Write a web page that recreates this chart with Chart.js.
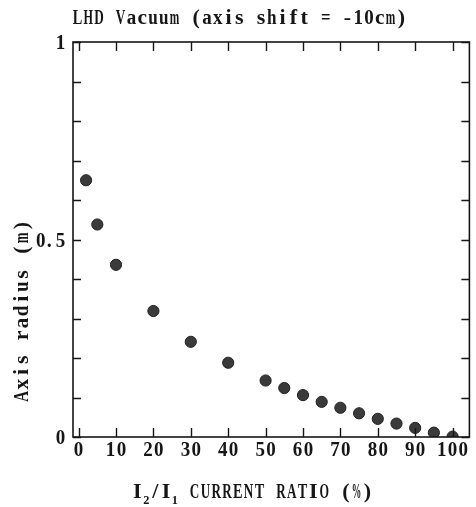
<!DOCTYPE html>
<html>
<head>
<meta charset="utf-8">
<script src="https://cdn.jsdelivr.net/npm/chart.js@4.4.0/dist/chart.umd.min.js"></script>
<style>
  html, body { margin: 0; padding: 0; background: #fff; }
  #wrap { width: 476px; height: 507px; }
</style>
</head>
<body>
<div id="wrap"><canvas id="c" width="476" height="507"></canvas></div>
<script>
// --- data ---
const currentRatio = [2, 5, 10, 20, 30, 40, 50, 55, 60, 65, 70, 75, 80, 85, 90, 95, 100];
const axisRadius = [0.65, 0.538, 0.436, 0.319, 0.241, 0.188, 0.143, 0.124, 0.106, 0.089, 0.074, 0.060, 0.046, 0.034, 0.023, 0.011, 0.001];

const xTickValues = [0, 10, 20, 30, 40, 50, 60, 70, 80, 90, 100];
const xTickText = ['0', '10', '20', '30', '40', '50', '60', '70', '80', '90', '100'];
const yTickValues = [0, 0.1, 0.2, 0.3, 0.4, 0.5, 0.6, 0.7, 0.8, 0.9, 1];
const yTickText = ['0', '', '', '', '', '0. 5', '', '', '', '', '1'];

const titleText = 'LHD Vacuum (axis shift = -10cm)';
const yTitleText = 'Axis radius (m)';
const xTitleParts = [['I', false], ['2', true], ['/I', false], ['1', true], [' CURRENT RATIO (%)', false]];

const INK = '#161616';
const FONT = "bold 20px 'Liberation Serif', serif";
const SUBFONT = "bold 12px 'Liberation Serif', serif";

// old typewriter-like print: every glyph sits in a fixed cell,
// wide ones get squeezed and thin ones widened a little
function monoText(ctx, text, x, y, align, cell, font, narrowPunct) {
    ctx.save();
    ctx.font = font || FONT;
    ctx.textAlign = 'center';
    const cw = ch => (narrowPunct && ch === '.') ? 6 : (narrowPunct && ch === ' ') ? 3 : cell;
    let total = 0;
    for (const ch of text) total += cw(ch);
    let left = x;
    if (align === 'center') left = x - total / 2;
    if (align === 'right') left = x - total;
    for (const ch of text) {
        const c = cw(ch);
        if (ch !== ' ') {
            const w = ctx.measureText(ch).width;
            const s = Math.min(1.1, (c * 0.88) / w);
            ctx.save();
            ctx.translate(left + c / 2, y);
            ctx.scale(narrowPunct && ch === '.' ? 1 : s, 1);
            ctx.fillText(ch, 0, 0);
            ctx.restore();
        }
        left += c;
    }
    ctx.restore();
    return total;
}

const framePlugin = {
    id: 'frame',
    afterDraw(chart) {
        const { ctx, chartArea: a, scales: { x, y } } = chart;
        ctx.save();
        ctx.strokeStyle = INK;
        ctx.fillStyle = INK;
        ctx.lineWidth = 1.6;
        ctx.strokeRect(a.left, a.top, a.right - a.left, a.bottom - a.top);

        ctx.lineWidth = 1.4;
        ctx.beginPath();
        xTickValues.forEach(v => {
            const px = Math.round(x.getPixelForValue(v)) + 0.5;
            ctx.moveTo(px, a.bottom); ctx.lineTo(px, a.bottom - 9);
            ctx.moveTo(px, a.top); ctx.lineTo(px, a.top + 9);
        });
        yTickValues.forEach(v => {
            const py = Math.round(y.getPixelForValue(v)) + 0.5;
            ctx.moveTo(a.left, py); ctx.lineTo(a.left + 8, py);
            ctx.moveTo(a.right, py); ctx.lineTo(a.right - 8, py);
        });
        ctx.stroke();

        // tick labels
        xTickValues.forEach((v, i) => {
            monoText(ctx, xTickText[i], x.getPixelForValue(v), a.bottom + 19, 'center', 10.8);
        });
        yTickValues.forEach((v, i) => {
            if (!yTickText[i]) return;
            monoText(ctx, yTickText[i], a.left - 7, y.getPixelForValue(v) + 7, 'right', 10.8, FONT, true);
        });

        // title
        monoText(ctx, titleText, 72, 24, 'left', 10.8);

        // y title, rotated
        ctx.save();
        ctx.translate(28, 311);
        ctx.rotate(-Math.PI / 2);
        monoText(ctx, yTitleText, 0, 0, 'center', 12.2);
        ctx.restore();

        // x title with subscripts
        let tx = 132;
        xTitleParts.forEach(([t, sub]) => {
            if (sub) tx += monoText(ctx, t, tx, 504, 'left', 7, SUBFONT);
            else tx += monoText(ctx, t, tx, 498, 'left', 10.8);
        });
        ctx.restore();
    }
};

new Chart(document.getElementById('c'), {
    type: 'scatter',
    data: {
        datasets: [{
            data: currentRatio.map((v, i) => ({ x: v, y: axisRadius[i] })),
            backgroundColor: '#3a3a3a',
            borderColor: '#222',
            borderWidth: 1,
            pointRadius: 5.6,
            pointHoverRadius: 5.6
        }]
    },
    options: {
        responsive: false,
        animation: false,
        layout: { padding: { top: 42, right: 2, left: 0, bottom: 0 } },
        plugins: { legend: { display: false }, tooltip: { enabled: false } },
        scales: {
            x: {
                type: 'linear',
                min: -1.5, max: 104.5,
                grid: { display: false },
                border: { display: false },
                ticks: { display: false },
                afterFit: s => { s.height = 70; }
            },
            y: {
                min: 0, max: 1,
                grid: { display: false },
                border: { display: false },
                ticks: { display: false },
                afterFit: s => { s.width = 73; }
            }
        }
    },
    plugins: [framePlugin]
});
</script>
</body>
</html>
